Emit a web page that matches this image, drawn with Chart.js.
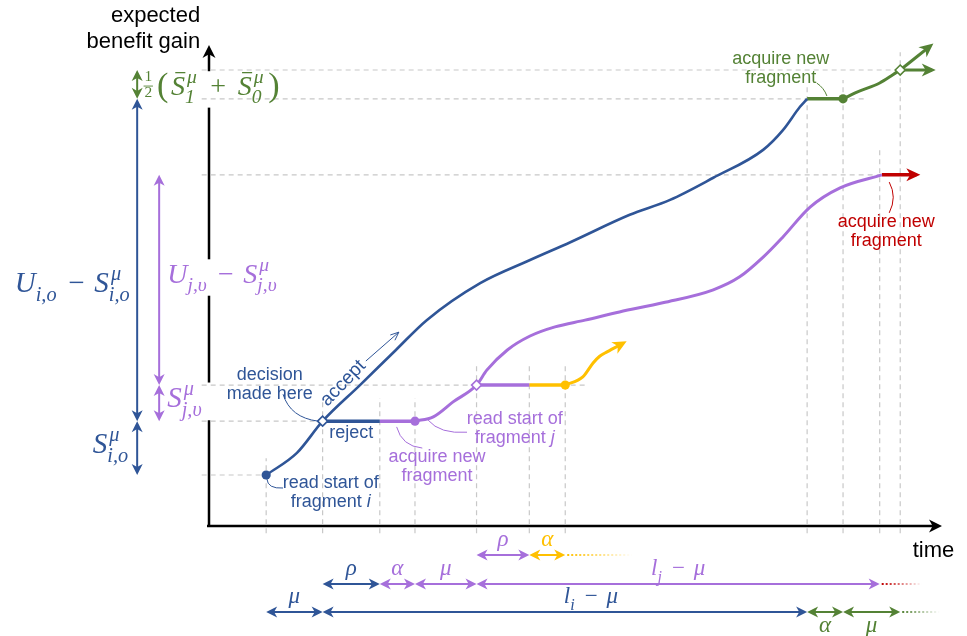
<!DOCTYPE html>
<html>
<head>
<meta charset="utf-8">
<title>expected benefit gain over time</title>
<script src="https://cdn.jsdelivr.net/npm/chart.js@4.4.1/dist/chart.umd.min.js"></script>
<style>
  html, body { margin: 0; background: #fff; }
  canvas { display: block; }
</style>
</head>
<body>
<canvas id="chart" width="967" height="636"></canvas>
<script>
// ---- data: time on x, expected benefit gain on y (both 0..100) ----

// moments where something happens on the time axis
const eventTimes = [7.8, 15.5, 23.3, 28.1, 36.5, 43.7, 48.6, 81.6, 86.5, 91.5, 94.3];
// how high the dashed guide above each moment reaches
const eventGuideTops = [14.1, 26.2, 26.6, 26.6, 33.9, 33.9, 33.9, 91.3, 92.7, 78.2, 98.5];

// gain levels with a dashed guide, and the time where each guide stops
const gainLevels = [10.6, 21.8, 29.3, 73.0, 88.8, 94.8];
const gainLevelEnds = [7.8, 28.1, 51.6, 91.8, 89.5, 94.3];

// fragment i: read start, decision point, then the accept branch
const fragIX = [7.8, 12.0, 15.5, 20.6, 25.5, 29.7, 37.0, 43.8, 49.3, 57.4, 62.9, 68.8, 75.6, 78.3, 80.6, 81.6];
const fragIY = [10.6, 15.2, 21.8, 29.3, 36.6, 42.8, 50.5, 55.3, 59.0, 64.7, 67.8, 72.4, 78.2, 82.3, 87.1, 88.8];

// reject branch, then waiting for fragment j
const rejectX = [15.5, 23.3];
const rejectY = [21.8, 21.8];
const waitJX = [23.3, 28.1];
const waitJY = [21.8, 21.8];

// fragment j
const fragJX = [28.1, 30.6, 33.3, 36.5, 37.9, 40.7, 43.8, 47.2, 51.3, 56.0, 61.9, 68.8, 72.4, 75.6, 78.3, 82.0, 86.1, 91.8];
const fragJY = [21.8, 22.7, 25.8, 29.3, 32.4, 36.6, 39.5, 41.4, 42.8, 44.5, 46.4, 49.1, 51.8, 55.9, 60.1, 66.3, 70.3, 73.0];

// fragment j rejected, wait, next fragment
const rejectJX = [36.5, 43.7];
const rejectJY = [29.3, 29.3];
const waitKX = [43.7, 48.6];
const waitKY = [29.3, 29.3];
const fragKX = [48.6, 51.0, 52.4, 53.3, 54.3, 56.5];
const fragKY = [29.3, 31.0, 33.9, 35.3, 36.2, 38.0];

// after fragment i is done
const waitNextX = [81.6, 86.5];
const waitNextY = [88.8, 88.8];
const nextX = [86.5, 88.4, 91.5, 93.3, 94.3];
const nextY = [88.8, 90.2, 92.1, 93.8, 94.8];
const nextOnX = [94.3, 98.4];
const nextOnY = [94.8, 99.8];
const nextFlatX = [94.3, 98.6];
const nextFlatY = [94.8, 94.8];

// after fragment j is done
const afterJX = [91.8, 96.5];
const afterJY = [73.0, 73.0];

// filled dots and hollow diamonds
const dotX = [7.8, 28.1, 48.6, 86.5];
const dotY = [10.6, 21.8, 29.3, 88.8];
const diamondX = [15.5, 36.5, 94.3];
const diamondY = [21.8, 29.3, 94.8];

// vertical gain spans left of the axis
const gainSpanFrom = [94.8, 88.8, 21.8, 73.0, 29.3];
const gainSpanTo = [88.8, 21.8, 10.6, 29.3, 21.8];

// duration spans under the time axis
const spanRow = [0, 0, 1, 1, 1, 1, 2, 2, 2, 2];
const spanStart = [36.5, 43.7, 15.5, 23.3, 28.1, 36.5, 7.8, 15.5, 81.6, 86.5];
const spanEnd = [43.7, 48.6, 23.3, 28.1, 36.5, 91.5, 15.5, 81.6, 86.5, 94.3];
const spanText = ['ρ', 'α', 'ρ', 'α', 'μ', 'l_j − μ', 'μ', 'l_i − μ', 'α', 'μ'];
// open ends continuing three of the rows
const tailRow = [0, 1, 2];
const tailStart = [48.6, 91.5, 94.3];
const tailEnd = [57.8, 97.3, 99.7];

// ---- styles ----
const BLUE = '#2F5597', PURPLE = '#A66FDB', GREEN = '#548235', YELLOW = '#FFC000', RED = '#C00000';
const GUIDE = '#c8c8c8';
const SANS = '"Liberation Sans", Arial, sans-serif';
const SERIF = '"Liberation Serif", "DejaVu Serif", serif';
const spanColor = [PURPLE, YELLOW, BLUE, PURPLE, PURPLE, PURPLE, BLUE, BLUE, GREEN, GREEN];
const spanBelow = [false, false, false, false, false, false, false, false, true, true];
const spanShift = [0, 0, 0, 0, 0, 0, 0, 26, 0, 0];
const tailColor = [YELLOW, RED, GREEN];
const rowOffset = [29, 58, 86];
const gainSpanColor = [GREEN, BLUE, BLUE, PURPLE, PURPLE];
const gainSpanCol = [-9.8, -9.8, -9.8, -6.8, -6.8];

const gainLabels = [
  {items: [{frac: ['1', '2']}, {paren: '('}, {bar: 'S'}, {sup: 'μ', sub: '1'}, {op: '+'}, {bar: 'S'}, {sup: 'μ', sub: '0'}, {paren: ')'}],
   x: -9.0, y: 89.6, size: 28, pad: 0.42, color: GREEN, knock: true},
  {items: ['U', {sub: 'i,o'}, {op: '−'}, 'S', {sup: 'μ', sub: 'i,o'}], x: -26.5, y: 48.6, size: 29, pad: 0.34, color: BLUE},
  {items: ['U', {sub: 'j,υ'}, {op: '−'}, 'S', {sup: 'μ', sub: 'j,υ'}], x: -5.7, y: 50.5, size: 28, pad: 0.34, color: PURPLE, knock: true},
  {items: ['S', {sup: 'μ', sub: 'j,υ'}], x: -5.7, y: 24.7, size: 29, pad: 0.3, color: PURPLE, knock: true},
  {items: ['S', {sup: 'μ', sub: 'i,o'}], x: -10.8, y: 15.2, size: 29, pad: 0.3, color: BLUE, align: 'right'}
];

// text notes, "*" starts the italic part of a line
const notes = [
  {lines: ['decision', 'made here'], x: 8.3, y: 31.4, color: BLUE},
  {lines: ['reject'], x: 19.4, y: 19.3, color: BLUE},
  {lines: ['read start of', 'fragment *i'], x: 16.6, y: 8.9, color: BLUE},
  {lines: ['acquire new', 'fragment'], x: 31.1, y: 14.3, color: PURPLE},
  {lines: ['read start of', 'fragment *j'], x: 41.7, y: 22.2, color: PURPLE},
  {lines: ['acquire new', 'fragment'], x: 78.0, y: 97.1, color: GREEN},
  {lines: ['acquire new', 'fragment'], x: 92.4, y: 63.2, color: RED}
];
// thin curved pointers: start, control, end
const leaders = [
  [10.1, 27.4, 11.1, 22.5, 14.9, 21.8, BLUE],
  [7.9, 9.8, 8.0, 7.7, 10.1, 7.9, BLUE],
  [25.6, 20.6, 26.3, 16.6, 29.1, 16.2, PURPLE],
  [29.9, 22.0, 31.5, 19.1, 35.2, 19.5, PURPLE],
  [82.9, 92.1, 83.9, 91.1, 84.3, 89.4, GREEN],
  [92.8, 71.5, 93.9, 68.4, 92.8, 65.1, RED]
];

// ---- drawing helpers ----
function head(ctx, x, y, ang, len, hw, color) {
  const c = Math.cos(ang), s = Math.sin(ang);
  ctx.beginPath();
  ctx.moveTo(x, y);
  ctx.lineTo(x - len * c + hw * s, y - len * s - hw * c);
  ctx.lineTo(x - len * 0.72 * c, y - len * 0.72 * s);
  ctx.lineTo(x - len * c - hw * s, y - len * s + hw * c);
  ctx.closePath();
  ctx.fillStyle = color;
  ctx.fill();
}

function both(ctx, x1, y1, x2, y2, color) {
  const ang = Math.atan2(y2 - y1, x2 - x1), c = Math.cos(ang), s = Math.sin(ang);
  ctx.strokeStyle = color;
  ctx.lineWidth = 2;
  ctx.beginPath();
  ctx.moveTo(x1 + c * 6, y1 + s * 6);
  ctx.lineTo(x2 - c * 6, y2 - s * 6);
  ctx.stroke();
  head(ctx, x2, y2, ang, 11, 5.5, color);
  head(ctx, x1, y1, ang + Math.PI, 11, 5.5, color);
}

const mf = (size, it) => (it ? 'italic ' : '') + size.toFixed(1) + 'px ' + SERIF;

function mathOps(ctx, items, size, pad) {
  const ops = [];
  let x = 0;
  const put = (t, dy, font) => {
    ctx.font = font;
    ops.push({t, x, dy, font});
    return ctx.measureText(t).width;
  };
  for (const it of items) {
    if (typeof it === 'string') {
      x += put(it, 0, mf(size, true));
    } else if (it.op) {
      x += size * pad;
      x += put(it.op, 0, mf(size, false));
      x += size * pad;
    } else if (it.bar) {
      const w = put(it.bar, 0, mf(size, true));
      ops.push({bar: true, x: x + w * 0.3, w: w * 0.72, dy: -size * 0.8});
      x += w;
    } else if (it.paren) {
      x += size * 0.1;
      x += put(it.paren, size * 0.04, mf(size * 1.22, false));
      x += size * 0.1;
    } else if (it.frac) {
      const fs = size * 0.55;
      ctx.font = mf(fs, false);
      const w = Math.max(ctx.measureText(it.frac[0]).width, ctx.measureText(it.frac[1]).width);
      ops.push({t: it.frac[0], x: x + size * 0.05, dy: -size * 0.5, font: mf(fs, false)});
      ops.push({t: it.frac[1], x: x + size * 0.05, dy: size * 0.08, font: mf(fs, false)});
      ops.push({bar: true, x: x + size * 0.02, w: w + size * 0.06, dy: -size * 0.32, lw: 0.9});
      x += w + size * 0.12;
    } else {
      const ss = size * 0.7;
      let w = 0;
      ctx.font = mf(ss, true);
      if (it.sup) {
        ops.push({t: it.sup, x: x + size * 0.07, dy: -size * 0.42, font: mf(ss, true)});
        w = Math.max(w, ctx.measureText(it.sup).width + size * 0.07);
      }
      if (it.sub) {
        ops.push({t: it.sub, x: x, dy: size * 0.3, font: mf(ss, true)});
        w = Math.max(w, ctx.measureText(it.sub).width);
      }
      x += w + size * 0.06;
    }
  }
  return {ops, width: x};
}

function drawMath(ctx, items, x, y, size, color, align, pad = 0.3) {
  const m = mathOps(ctx, items, size, pad);
  const x0 = align === 'center' ? x - m.width / 2 : align === 'right' ? x - m.width : x;
  ctx.fillStyle = color;
  ctx.strokeStyle = color;
  ctx.textAlign = 'left';
  ctx.textBaseline = 'alphabetic';
  for (const o of m.ops) {
    if (o.bar) {
      ctx.lineWidth = o.lw || 1.3;
      ctx.beginPath();
      ctx.moveTo(x0 + o.x, y + o.dy);
      ctx.lineTo(x0 + o.x + o.w, y + o.dy);
      ctx.stroke();
    } else {
      ctx.font = o.font;
      ctx.fillText(o.t, x0 + o.x, y + o.dy);
    }
  }
}

// "l_j − μ" -> math items
function parseMath(s) {
  const out = [];
  for (const tok of s.split(' ')) {
    if (tok === '−' || tok === '+') out.push({op: tok});
    else if (tok.includes('_')) {
      const [a, b] = tok.split('_');
      out.push(a, {sub: b});
    } else out.push(tok);
  }
  return out;
}

function drawNote(ctx, n, X, Y) {
  ctx.fillStyle = n.color;
  ctx.textAlign = 'left';
  ctx.textBaseline = 'middle';
  n.lines.forEach((ln, k) => {
    const [a, b = ''] = ln.split('*');
    ctx.font = '18px ' + SANS;
    const wa = ctx.measureText(a).width;
    ctx.font = 'italic 18px ' + SANS;
    const wb = ctx.measureText(b).width;
    const x0 = X(n.x) - (wa + wb) / 2, yy = Y(n.y) + k * 19;
    ctx.font = '18px ' + SANS;
    ctx.fillText(a, x0, yy);
    if (b) {
      ctx.font = 'italic 18px ' + SANS;
      ctx.fillText(b, x0 + wa, yy);
    }
  });
}

// axes, guides, arrows and all the text around the curves
const diagram = {
  id: 'diagram',
  beforeDatasetsDraw(chart) {
    const {ctx, scales: {x, y}} = chart;
    const X = v => x.getPixelForValue(v), Y = v => y.getPixelForValue(v);
    ctx.save();

    // axes with arrow tips
    ctx.strokeStyle = '#000';
    ctx.lineWidth = 2.5;
    ctx.beginPath();
    ctx.moveTo(X(0) - 2, Y(0));
    ctx.lineTo(X(100) - 8, Y(0));
    ctx.moveTo(X(0), Y(0) + 1);
    ctx.lineTo(X(0), Y(100) + 8);
    ctx.stroke();
    head(ctx, X(100), Y(0), 0, 13, 6.5, '#000');
    head(ctx, X(0), Y(100), -Math.PI / 2, 13, 6.5, '#000');

    // labels sitting on the y axis hide it behind them
    ctx.fillStyle = '#fff';
    for (const lb of gainLabels) {
      if (!lb.knock) continue;
      ctx.fillRect(X(0) - 3, Y(lb.y) - lb.size * 0.85, 6, lb.size * 1.3);
    }

    // dashed guides
    ctx.strokeStyle = GUIDE;
    ctx.lineWidth = 1.2;
    ctx.setLineDash([5, 4]);
    gainLevels.forEach((g, i) => {
      ctx.beginPath();
      ctx.moveTo(X(-1.0), Y(g));
      ctx.lineTo(X(gainLevelEnds[i]), Y(g));
      ctx.stroke();
    });
    eventTimes.forEach((t, i) => {
      ctx.beginPath();
      ctx.moveTo(X(t), Y(-1.5));
      ctx.lineTo(X(t), Y(eventGuideTops[i]));
      ctx.stroke();
    });
    ctx.restore();
  },

  afterDatasetsDraw(chart) {
    const {ctx, scales: {x, y}} = chart;
    const X = v => x.getPixelForValue(v), Y = v => y.getPixelForValue(v);
    const base = Y(0);
    ctx.save();

    // arrow tips on the open-ended curves
    chart.data.datasets.forEach((ds, i) => {
      if (!ds.arrowEnd) return;
      const els = chart.getDatasetMeta(i).data;
      const a = els[els.length - 2], b = els[els.length - 1];
      const ang = Math.atan2(b.y - a.y, b.x - a.x);
      head(ctx, b.x + 4 * Math.cos(ang), b.y + 4 * Math.sin(ang), ang, 14, 6.5, ds.borderColor);
    });

    // gain spans left of the axis
    gainSpanFrom.forEach((g, i) => {
      both(ctx, X(gainSpanCol[i]), Y(g), X(gainSpanCol[i]), Y(gainSpanTo[i]), gainSpanColor[i]);
    });
    for (const lb of gainLabels) drawMath(ctx, lb.items, X(lb.x), Y(lb.y), lb.size, lb.color, lb.align, lb.pad);

    // duration spans under the time axis
    spanStart.forEach((t, i) => {
      const ry = base + rowOffset[spanRow[i]];
      both(ctx, X(t), ry, X(spanEnd[i]), ry, spanColor[i]);
      const ly = spanBelow[i] ? ry + 20 : ry - 9;
      const cx = (X(t) + X(spanEnd[i])) / 2 + spanShift[i];
      drawMath(ctx, parseMath(spanText[i]), cx, ly, 23, spanColor[i], 'center', 0.38);
    });
    tailStart.forEach((t, i) => {
      const ry = base + rowOffset[tailRow[i]], x0 = X(t) + 2, x1 = X(tailEnd[i]);
      const g = ctx.createLinearGradient(x0, 0, x1, 0);
      g.addColorStop(0, tailColor[i]);
      g.addColorStop(1, tailColor[i] + '00');
      ctx.strokeStyle = g;
      ctx.lineWidth = 2;
      ctx.setLineDash([2, 2]);
      ctx.beginPath();
      ctx.moveTo(x0, ry);
      ctx.lineTo(x1, ry);
      ctx.stroke();
      ctx.setLineDash([]);
    });

    // notes and their pointers
    for (const n of notes) drawNote(ctx, n, X, Y);
    ctx.lineWidth = 1;
    for (const [x0, y0, cx, cy, x1, y1, col] of leaders) {
      ctx.strokeStyle = col;
      ctx.beginPath();
      ctx.moveTo(X(x0), Y(y0));
      ctx.quadraticCurveTo(X(cx), Y(cy), X(x1), Y(y1));
      ctx.stroke();
    }

    // "accept" written along its branch, with a small open arrow
    ctx.save();
    ctx.translate(X(18.3), Y(29.7));
    ctx.rotate(-46 * Math.PI / 180);
    ctx.fillStyle = BLUE;
    ctx.font = '19px ' + SANS;
    ctx.textAlign = 'center';
    ctx.textBaseline = 'middle';
    ctx.fillText('accept', 0, 0);
    ctx.restore();
    {
      const ax0 = X(21.4), ay0 = Y(34.3), ax1 = X(25.9), ay1 = Y(40.3);
      const ang = Math.atan2(ay1 - ay0, ax1 - ax0);
      ctx.strokeStyle = BLUE;
      ctx.lineWidth = 1;
      ctx.beginPath();
      ctx.moveTo(ax0, ay0);
      ctx.lineTo(ax1, ay1);
      ctx.moveTo(ax1 - 9 * Math.cos(ang - 0.4), ay1 - 9 * Math.sin(ang - 0.4));
      ctx.lineTo(ax1, ay1);
      ctx.lineTo(ax1 - 9 * Math.cos(ang + 0.4), ay1 - 9 * Math.sin(ang + 0.4));
      ctx.stroke();
    }

    // axis titles
    ctx.fillStyle = '#000';
    ctx.font = '22px ' + SANS;
    ctx.textBaseline = 'alphabetic';
    ctx.textAlign = 'right';
    ctx.fillText('expected', X(-1.2), Y(104.8));
    ctx.fillText('benefit gain', X(-1.2), Y(99.4));
    ctx.textAlign = 'left';
    ctx.fillText('time', X(96.0), Y(-6.4));
    ctx.restore();
  }
};

const pts = (xs, ys) => xs.map((v, i) => ({x: v, y: ys[i]}));
function path(xs, ys, color, width, extra) {
  return Object.assign({
    data: pts(xs, ys),
    showLine: true,
    borderColor: color,
    borderWidth: width,
    pointRadius: 0,
    pointHoverRadius: 0,
    cubicInterpolationMode: 'monotone',
    fill: false
  }, extra);
}

new Chart(document.getElementById('chart'), {
  type: 'scatter',
  data: {
    datasets: [
      {data: pts(dotX, dotY), showLine: false, pointRadius: 4.6, pointBorderWidth: 0,
       pointBackgroundColor: [BLUE, PURPLE, YELLOW, GREEN]},
      {data: pts(diamondX, diamondY), showLine: false, pointStyle: 'rectRot', pointRadius: 5,
       pointBackgroundColor: '#fff', pointBorderColor: [BLUE, PURPLE, GREEN], pointBorderWidth: 1.6},
      path(fragIX, fragIY, BLUE, 2.6),
      path(rejectX, rejectY, BLUE, 3.5),
      path(waitJX, waitJY, PURPLE, 3.5),
      path(fragJX, fragJY, PURPLE, 3),
      path(rejectJX, rejectJY, PURPLE, 3.5),
      path(waitKX, waitKY, YELLOW, 3.5),
      path(fragKX, fragKY, YELLOW, 3, {arrowEnd: true}),
      path(waitNextX, waitNextY, GREEN, 3.5),
      path(nextX, nextY, GREEN, 3),
      path(nextOnX, nextOnY, GREEN, 3, {arrowEnd: true}),
      path(nextFlatX, nextFlatY, GREEN, 3, {arrowEnd: true}),
      path(afterJX, afterJY, RED, 3.5, {arrowEnd: true})
    ]
  },
  options: {
    responsive: false,
    animation: false,
    events: [],
    layout: {padding: {left: 209, right: 25, top: 45, bottom: 110}},
    scales: {
      x: {type: 'linear', min: 0, max: 100, display: false},
      y: {type: 'linear', min: 0, max: 100, display: false}
    },
    plugins: {legend: {display: false}, tooltip: {enabled: false}}
  },
  plugins: [diagram]
});
</script>
</body>
</html>
